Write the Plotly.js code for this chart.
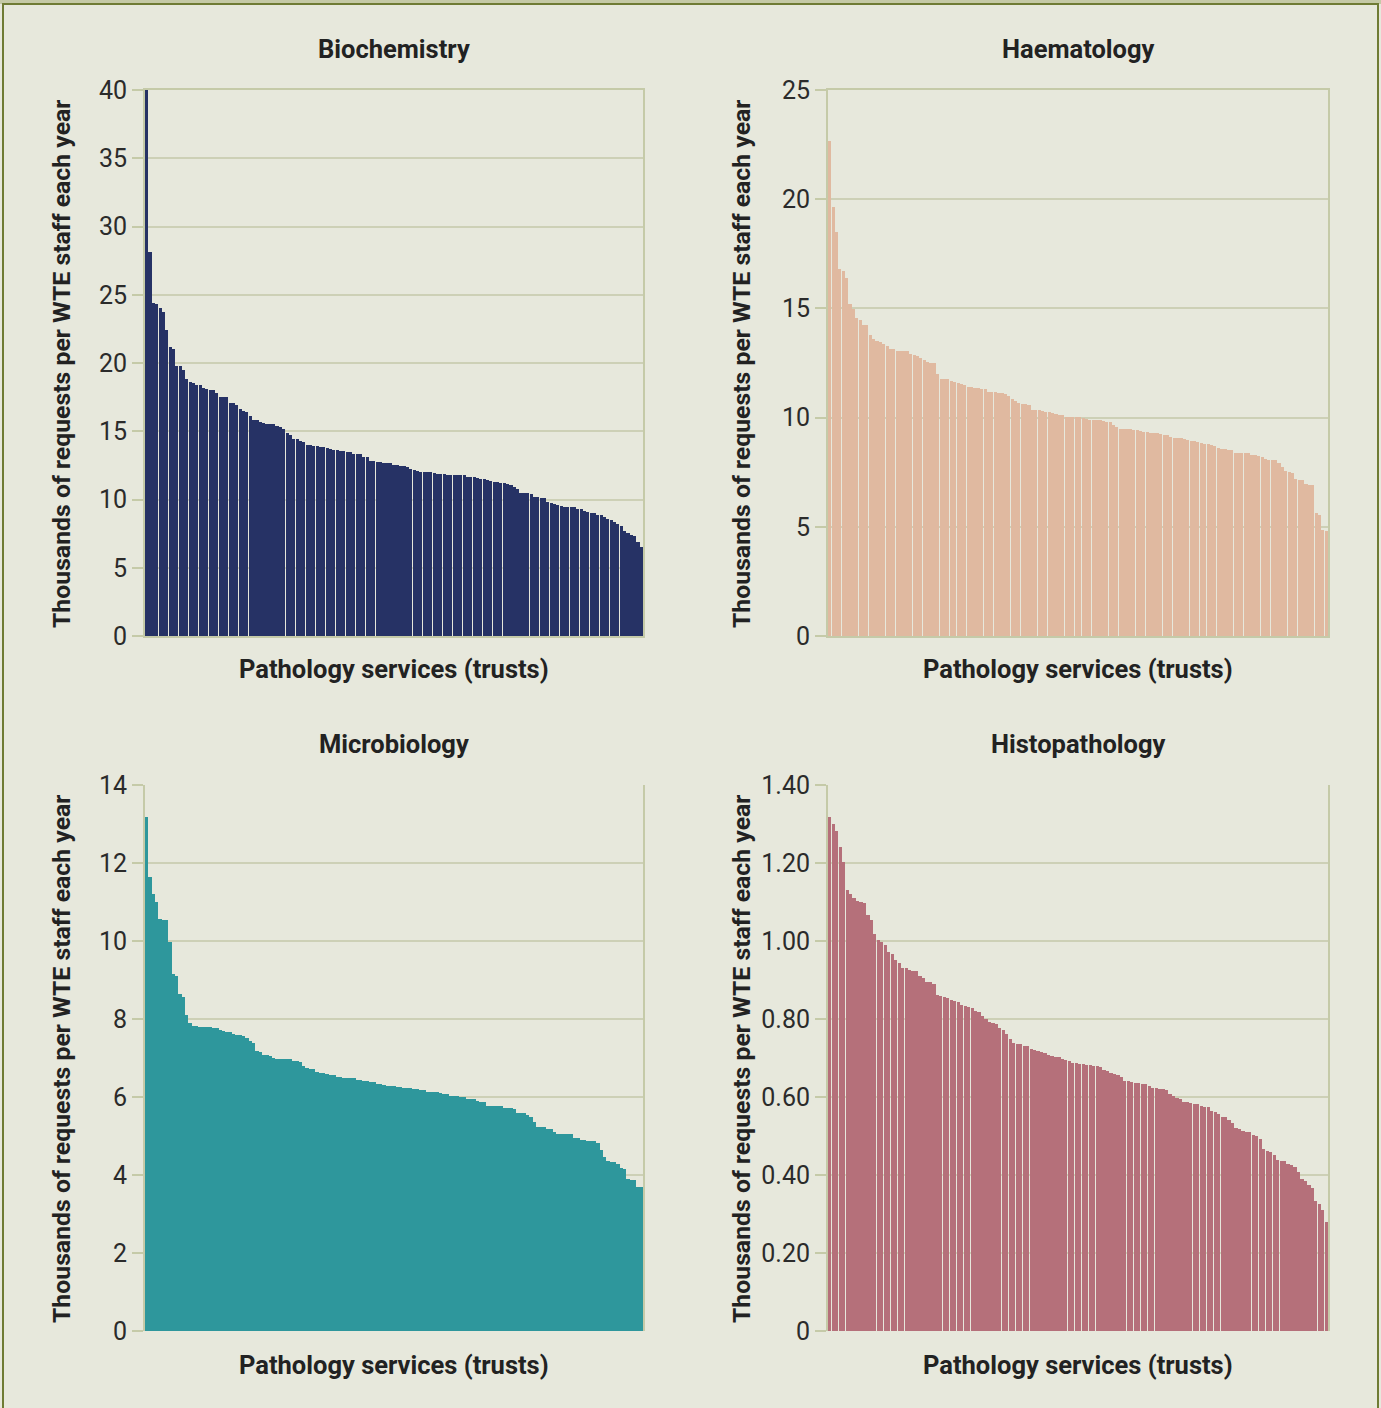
<!DOCTYPE html>
<html>
<head>
<meta charset="utf-8">
<script src="https://cdn.plot.ly/plotly-3.0.1.min.js"></script>
<style>html,body{margin:0;padding:0;background:#e7e8dc;}#chart{width:1381px;height:1408px;}</style>
</head>
<body>
<div id="chart"></div>
<script>
const biochemistry = [
40.0, 28.1, 24.4, 24.3, 24.0, 23.7, 22.4, 21.2, 21.0, 19.8,
19.8, 19.5, 18.8, 18.6, 18.5, 18.4, 18.4, 18.2, 18.1, 18.0,
18.0, 17.8, 17.5, 17.5, 17.5, 17.1, 17.1, 16.9, 16.6, 16.5,
16.4, 16.1, 15.8, 15.8, 15.7, 15.6, 15.5, 15.5, 15.5, 15.4,
15.3, 15.2, 14.9, 14.7, 14.4, 14.4, 14.3, 14.2, 14.0, 14.0,
13.9, 13.9, 13.85, 13.85, 13.8, 13.7, 13.6, 13.6, 13.55, 13.55,
13.5, 13.5, 13.3, 13.3, 13.3, 13.1, 13.1, 12.8, 12.8, 12.75,
12.75, 12.7, 12.7,
12.66, 12.51, 12.51, 12.46, 12.44, 12.37, 12.22, 12.15, 12.07, 12.0,
12.0, 12.0, 12.0, 11.93, 11.85, 11.85, 11.85, 11.78, 11.78, 11.78,
11.78, 11.78, 11.78, 11.63, 11.63, 11.63, 11.56, 11.49, 11.49, 11.41,
11.34, 11.27, 11.27, 11.2, 11.2, 11.12, 11.05, 10.95, 10.76, 10.46,
10.46, 10.46, 10.39, 10.17, 10.17, 10.1, 10.1, 9.8, 9.73, 9.66,
9.59, 9.51, 9.44, 9.44, 9.44, 9.44, 9.29, 9.29, 9.15, 9.07,
9.0, 9.0, 8.85, 8.85, 8.71, 8.56, 8.49, 8.34, 8.2, 8.05,
7.68, 7.54, 7.39, 7.32, 6.88, 6.51
];

const haematology = [
22.66, 19.65, 18.51, 16.82, 16.73, 16.41, 15.22, 14.99, 14.58, 14.49,
14.26, 14.22, 13.76, 13.62, 13.49, 13.44, 13.35, 13.3, 13.12, 13.12,
13.07, 13.07, 13.07, 13.03, 12.89, 12.85, 12.8, 12.71, 12.62, 12.53,
12.48, 12.48, 11.98, 11.75, 11.75, 11.75, 11.66, 11.61, 11.57, 11.52,
11.48, 11.38, 11.38, 11.34, 11.34, 11.29, 11.29, 11.16, 11.16, 11.16,
11.11, 11.11, 11.07, 10.97, 10.84, 10.75, 10.65, 10.61, 10.61, 10.56,
10.33, 10.33, 10.33, 10.29, 10.24, 10.24, 10.2, 10.15, 10.11, 10.11,
10.02, 10.02, 10.02, 10.03, 10.03,
9.98, 9.94, 9.89, 9.89, 9.89, 9.89, 9.85, 9.8, 9.8, 9.66,
9.57, 9.48, 9.48, 9.48, 9.48, 9.43, 9.43, 9.39, 9.34, 9.34,
9.3, 9.3, 9.3, 9.25, 9.2, 9.2, 9.11, 9.07, 9.07, 9.07,
9.02, 8.98, 8.93, 8.93, 8.88, 8.84, 8.79, 8.79, 8.75, 8.7,
8.61, 8.56, 8.56, 8.52, 8.52, 8.38, 8.38, 8.38, 8.38, 8.38,
8.29, 8.29, 8.24, 8.2, 8.1, 8.06, 8.06, 8.06, 7.92, 7.74,
7.55, 7.51, 7.46, 7.19, 7.14, 7.14, 6.96, 6.91, 6.91, 5.63,
5.54, 4.85, 4.8
];

const microbiology = [
13.19, 11.63, 11.21, 11.0, 10.57, 10.55, 10.55, 9.98, 9.16, 9.11,
8.65, 8.57, 8.11, 7.9, 7.83, 7.83, 7.8, 7.8, 7.8, 7.8,
7.77, 7.77, 7.72, 7.69, 7.67, 7.67, 7.61, 7.6, 7.6, 7.56,
7.51, 7.44, 7.39, 7.18, 7.16, 7.08, 7.08, 7.06, 7.01, 6.98,
6.98, 6.98, 6.98, 6.98, 6.93, 6.93, 6.9, 6.8, 6.75, 6.72,
6.72, 6.64, 6.62, 6.62, 6.59, 6.56, 6.56, 6.52, 6.52, 6.49,
6.49, 6.49, 6.49, 6.44, 6.44, 6.41, 6.41, 6.39, 6.39, 6.33,
6.33, 6.31, 6.29,
6.27, 6.27, 6.25, 6.25, 6.22, 6.22, 6.22, 6.2, 6.2, 6.17,
6.17, 6.14, 6.12, 6.12, 6.12, 6.09, 6.07, 6.07, 6.02, 6.02,
6.02, 5.99, 5.99, 5.96, 5.96, 5.94, 5.91, 5.86, 5.86, 5.78,
5.78, 5.78, 5.78, 5.76, 5.73, 5.71, 5.71, 5.68, 5.6, 5.6,
5.6, 5.53, 5.48, 5.37, 5.22, 5.22, 5.22, 5.19, 5.19, 5.09,
5.06, 5.06, 5.04, 5.04, 5.04, 4.96, 4.94, 4.91, 4.91, 4.88,
4.88, 4.86, 4.83, 4.65, 4.45, 4.37, 4.34, 4.34, 4.29, 4.19,
4.16, 3.91, 3.86, 3.86, 3.68, 3.68
];

const histopathology = [
1.319, 1.300, 1.282, 1.241, 1.203, 1.131, 1.121, 1.110, 1.103, 1.101,
1.098, 1.067, 1.054, 1.019, 1.003, 0.998, 0.990, 0.973, 0.967, 0.951,
0.944, 0.931, 0.931, 0.926, 0.923, 0.923, 0.911, 0.906, 0.895, 0.895,
0.891, 0.862, 0.860, 0.857, 0.854, 0.849, 0.846, 0.844, 0.837, 0.834,
0.831, 0.829, 0.821, 0.818, 0.808, 0.801, 0.793, 0.790, 0.787, 0.778,
0.772, 0.762, 0.749, 0.739, 0.736, 0.736, 0.731, 0.731, 0.724, 0.721,
0.718, 0.716, 0.713, 0.708, 0.706, 0.703, 0.703, 0.698, 0.695, 0.693,
0.687, 0.687, 0.685, 0.685, 0.682, 0.682, 0.679, 0.679, 0.677, 0.669,
0.667, 0.662, 0.659, 0.656, 0.651, 0.641, 0.641, 0.638, 0.636, 0.636,
0.633, 0.633, 0.628, 0.623, 0.623, 0.620, 0.620, 0.618, 0.608, 0.603,
0.597, 0.595, 0.587, 0.587, 0.585, 0.582, 0.582, 0.577, 0.574, 0.574,
0.564, 0.562, 0.556, 0.549, 0.549, 0.541, 0.533, 0.521, 0.518, 0.513,
0.510, 0.510, 0.503, 0.500, 0.492, 0.467, 0.462, 0.459, 0.451, 0.438,
0.436, 0.436, 0.428, 0.426, 0.421, 0.408, 0.390, 0.385, 0.374, 0.367,
0.333, 0.326, 0.310, 0.279
];

const panelTitles = ["Biochemistry", "Haematology", "Microbiology", "Histopathology"];
const xAxisTitle = "Pathology services (trusts)";
const yAxisTitle = "Thousands of requests per WTE staff each year";

const biochemTicks = [0, 5, 10, 15, 20, 25, 30, 35, 40];
const biochemTickText = ["0", "5", "10", "15", "20", "25", "30", "35", "40"];
const haemTicks = [0, 5, 10, 15, 20, 25];
const haemTickText = ["0", "5", "10", "15", "20", "25"];
const microTicks = [0, 2, 4, 6, 8, 10, 12, 14];
const microTickText = ["0", "2", "4", "6", "8", "10", "12", "14"];
const histoTicks = [0, 0.2, 0.4, 0.6, 0.8, 1.0, 1.2, 1.4];
const histoTickText = ["0", "0.20", "0.40", "0.60", "0.80", "1.00", "1.20", "1.40"];

const colors = ["#263265", "#e0b9a0", "#2e979c", "#b5707a"];
const barWidths = [0.92, 0.92, 1.0, 0.92];
const seriesList = [biochemistry, haematology, microbiology, histopathology];
const W = 1381, H = 1408;

const traces = seriesList.map((vals, k) => ({
  type: "bar",
  x: vals.map((_, i) => i + 1),
  y: vals,
  width: barWidths[k],
  xaxis: k === 0 ? "x" : "x" + (k + 1),
  yaxis: k === 0 ? "y" : "y" + (k + 1),
  marker: { color: colors[k], line: { width: 0 } },
  hoverinfo: "y",
  showlegend: false
}));

const gridC = "#cdd0b6", lineC = "#c5caa8";
function xa(dom, n) {
  return {
    domain: dom, range: [0.5, n + 0.5], showticklabels: false, ticks: "",
    showgrid: false, zeroline: false, showline: true, mirror: true,
    linecolor: lineC, linewidth: 2, fixedrange: true
  };
}
function ya(dom, rng, tv, tt, anchor) {
  return {
    domain: dom, range: rng, tickvals: tv, ticktext: tt, anchor: anchor,
    showgrid: true, gridcolor: gridC, gridwidth: 2, zeroline: false,
    showline: true, mirror: true, linecolor: lineC, linewidth: 2,
    ticks: "outside", ticklen: 11, tickwidth: 2, tickcolor: lineC,
    ticklabelstandoff: 0,
    tickfont: { family: "Roboto, sans-serif", size: 25, color: "#2b2b2b" },
    fixedrange: true
  };
}
const colL = [145 / W, 643 / W], colR = [828 / W, 1328 / W];
const rowT = [(H - 636) / H, (H - 90) / H], rowB = [(H - 1331) / H, (H - 785) / H];

const titleFont = { family: "Roboto, sans-serif", size: 25.5, color: "#222222", weight: 700 };
const axFont = { family: "Roboto, sans-serif", size: 25.5, color: "#222222", weight: 700 };
const yFont = { family: "Roboto, sans-serif", size: 24.8, color: "#222222", weight: 700 };

const annotations = [];
const centersX = [394 / W, 1078 / W, 394 / W, 1078 / W];
const titleY = [1 - 49 / H, 1 - 49 / H, 1 - 744 / H, 1 - 744 / H];
const xtY = [1 - 669 / H, 1 - 669 / H, 1 - 1365 / H, 1 - 1365 / H];
const ytX = [61 / W, 741 / W, 61 / W, 741 / W];
const ytY = [1 - 364 / H, 1 - 364 / H, 1 - 1059 / H, 1 - 1059 / H];
for (let k = 0; k < 4; k++) {
  annotations.push({ text: panelTitles[k], x: centersX[k], y: titleY[k], xref: "paper", yref: "paper",
    xanchor: "center", yanchor: "middle", showarrow: false, font: titleFont });
  annotations.push({ text: xAxisTitle, x: centersX[k], y: xtY[k], xref: "paper", yref: "paper",
    xanchor: "center", yanchor: "middle", showarrow: false, font: axFont });
  annotations.push({ text: yAxisTitle, x: ytX[k], y: ytY[k], xref: "paper", yref: "paper",
    xanchor: "center", yanchor: "middle", showarrow: false, textangle: -90, font: yFont });
}

const layout = {
  width: W, height: H,
  margin: { l: 0, r: 0, t: 0, b: 0 },
  paper_bgcolor: "#e7e8dc", plot_bgcolor: "rgba(0,0,0,0)",
  bargap: 0,
  xaxis: xa(colL, biochemistry.length),
  yaxis: ya(rowT, [0, 40], biochemTicks, biochemTickText, "x"),
  xaxis2: xa(colR, haematology.length),
  yaxis2: ya(rowT, [0, 25], haemTicks, haemTickText, "x2"),
  xaxis3: xa(colL, microbiology.length),
  yaxis3: ya(rowB, [0, 14], microTicks, microTickText, "x3"),
  xaxis4: xa(colR, histopathology.length),
  yaxis4: ya(rowB, [0, 1.4], histoTicks, histoTickText, "x4"),
  annotations: annotations,
  shapes: [
    { type: "rect", xref: "paper", yref: "paper", x0: 0, x1: 1, y0: 1 - 4 / H, y1: 1.01,
      fillcolor: "#c5c9a6", line: { width: 0 }, layer: "below" },
    { type: "rect", xref: "paper", yref: "paper", x0: 3 / W, x1: 1378 / W, y0: -0.02, y1: 1 - 4 / H,
      fillcolor: "rgba(0,0,0,0)", line: { color: "#6f7b34", width: 2 }, layer: "above" }
  ]
};
Plotly.newPlot("chart", traces, layout, { displayModeBar: false, staticPlot: true });
</script>
</body>
</html>
